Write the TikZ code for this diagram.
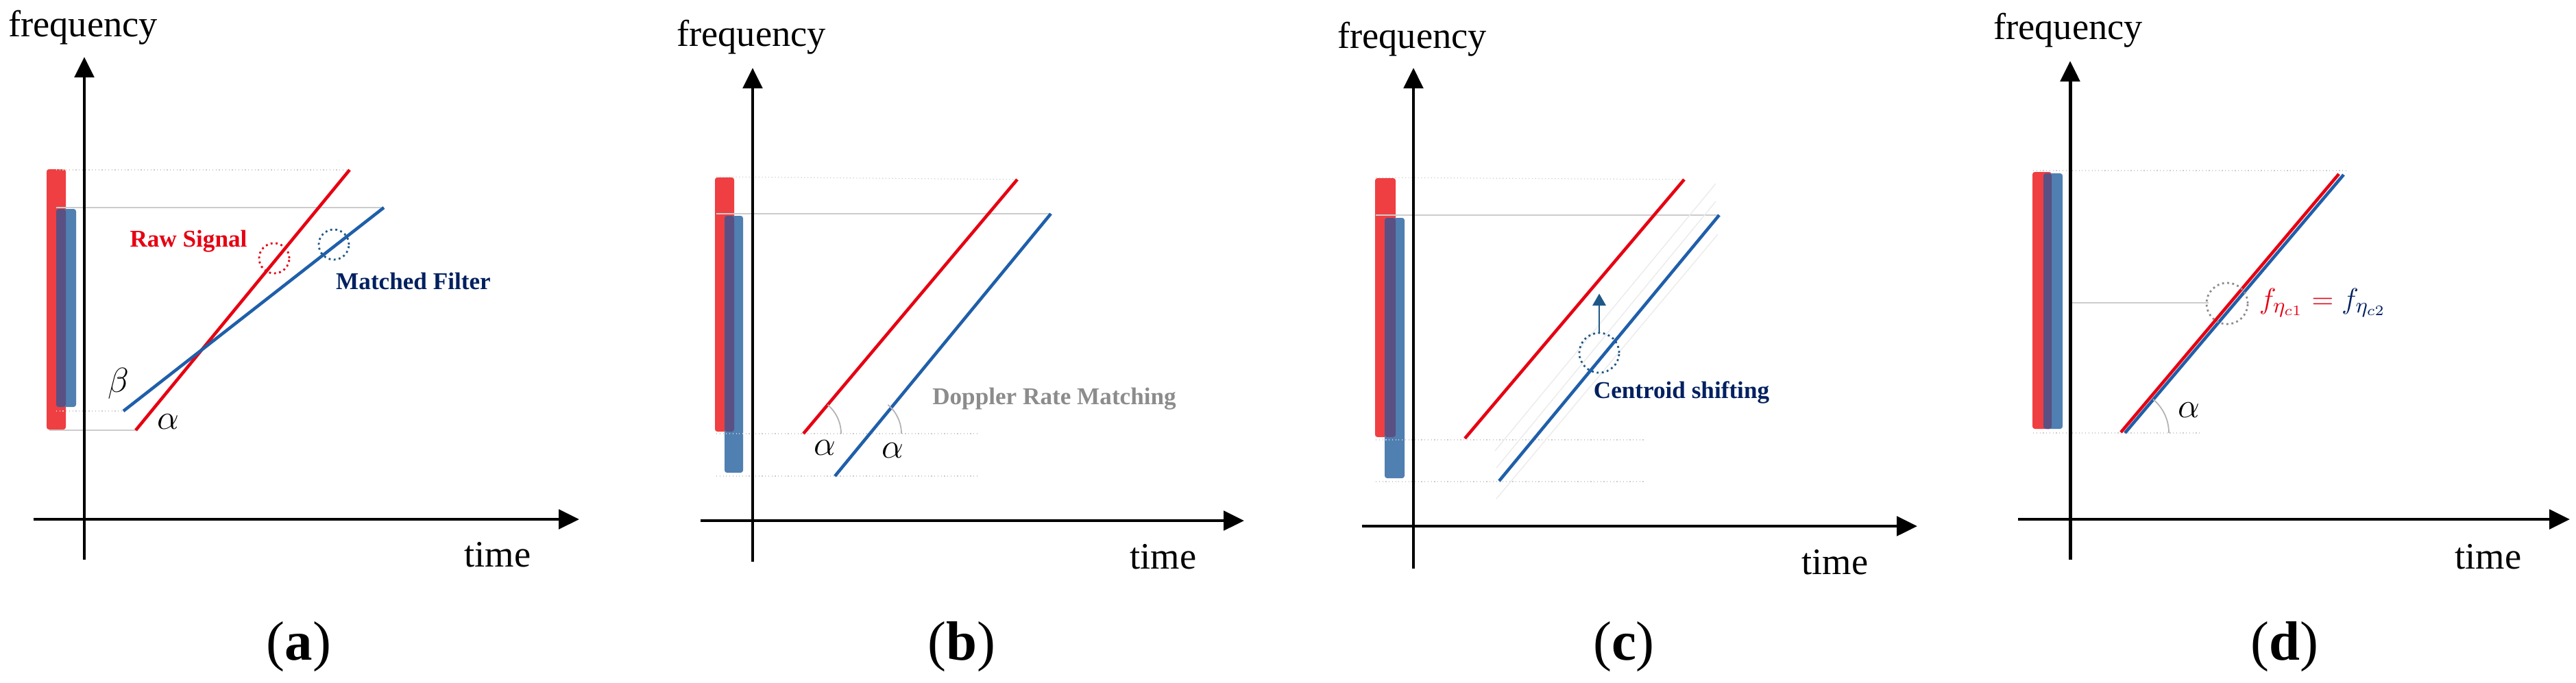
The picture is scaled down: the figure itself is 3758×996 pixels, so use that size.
\documentclass[tikz,border=0pt]{standalone}
\usepackage{fontspec}
\setmainfont{Liberation Serif}
\usepackage{amsmath}
\usetikzlibrary{arrows.meta,positioning,calc}
\definecolor{sigred}{RGB}{230,0,18}
\definecolor{sigblue}{RGB}{31,95,170}
\definecolor{barred}{RGB}{239,63,66}
\definecolor{barblue}{RGB}{80,127,177}
\definecolor{barmix}{RGB}{90,80,131}
\definecolor{navy}{RGB}{0,32,96}
\definecolor{markblue}{RGB}{31,88,135}
\definecolor{labgray}{RGB}{140,140,140}
\tikzset{
  axis/.style={line width=1.4pt, -{Triangle[length=8.5pt,width=8pt]}},
  guide/.style={line width=0.35pt, black!20},
  guidedot/.style={guide, densely dotted},
  chirp/.style={line width=1.3pt},
  ring/.style={circle, inner sep=0pt, line width=0.8pt, dash pattern=on 0.8pt off 1.3pt},
  axlabel/.style={font=\fontsize{15.5}{18}\selectfont, inner sep=0pt, anchor=base},
  sublabel/.style={font=\fontsize{23}{26}\selectfont, inner sep=0pt, anchor=base},
  tag/.style={font=\fontsize{10}{12}\selectfont\bfseries, inner sep=0pt},
  greek/.style={font=\fontsize{14}{16}\selectfont, inner sep=0pt},
  angarc/.style={line width=0.5pt, black!30},
  bar/.style={rounded corners=1pt},
}
\begin{document}
\begin{tikzpicture}[x=0.01cm, y=-0.01cm]
    \useasboundingbox (0,0) rectangle (3758,996);
    %%%%%%%%%% (a)
    \fill[bar, barred] (68,247) rectangle (96,627);
    \fill[bar, barblue] (82,305) rectangle (111,594);
    \fill[bar, barmix] (82,305) rectangle (96,594);
    \coordinate (rA0) at (198,628);
    \coordinate (rA1) at (510,248);
    \coordinate (bA0) at (180,600);
    \coordinate (bA1) at (560,303);
    \draw[guidedot] (82,248) -- (rA1);
    \draw[guide] (82,303) -- (bA1);
    \draw[guidedot] (82,600) -- (bA0);
    \draw[guide] (72,628) -- (rA0);
    \draw[axis] (123,817) -- (123,83);
    \draw[axis] (49,758) -- (845,758);
    \draw[chirp, sigred] (rA0) -- (rA1);
    \draw[chirp, sigblue] (bA0) -- (bA1);
    \node[ring, draw=sigred, minimum size=0.44cm] (ringA1) at (400,377) {};
    \node[ring, draw=markblue, minimum size=0.44cm] (ringA2) at (487,357) {};
    \node[axlabel] (freqA) at (121,53) {frequency};
    \node[axlabel] (timeA) at (726,827) {time};
    \node[sublabel] (capA) at (436,963) {(\textbf{a})};
    \node[tag, text=sigred] (rawA) at (275,352) {Raw Signal};
    \node[tag, text=navy] (mfA) at (603,410) {Matched Filter};
    \node[greek] (betaA) at (173,560) {$\beta$};
    \node[greek] (alphaA) at (245,616) {$\alpha$};
    %%%%%%%%%% (b)
    \fill[bar, barred] (1043,259) rectangle (1071,630);
    \fill[bar, barblue] (1057,315) rectangle (1084,690);
    \fill[bar, barmix] (1057,315) rectangle (1071,630);
    \coordinate (rB0) at (1172,633);
    \coordinate (rB1) at (1484,262);
    \coordinate (bB0) at (1218,695);
    \coordinate (bB1) at (1533,312);
    \draw[guidedot] (1045,258) -- (rB1);
    \draw[guide] (1045,312) -- (bB1);
    \draw[guidedot] (1045,633) -- (1429,633);
    \draw[guidedot] (1045,695) -- (1429,695);
    \draw[axis] (1098,820) -- (1098,99);
    \draw[axis] (1022,760) -- (1815,760);
    \draw[chirp, sigred] (rB0) -- (rB1);
    \draw[chirp, sigblue] (bB0) -- (bB1);
    \draw[angarc] ($(rB0)+(55,0)$) arc[start angle=0, end angle=-50, radius=55];
    \draw[angarc] (1315,633) arc[start angle=0, end angle=-50, radius=55];
    \node[axlabel] (freqB) at (1096,67) {frequency};
    \node[axlabel] (timeB) at (1697,830) {time};
    \node[sublabel] (capB) at (1403,963) {(\textbf{b})};
    \node[tag, text=labgray] (dopB) at (1538,582) {Doppler Rate Matching};
    \node[greek] (alphaB1) at (1203,654) {$\alpha$};
    \node[greek] (alphaB2) at (1302,658) {$\alpha$};
    %%%%%%%%%% (c)
    \fill[bar, barred] (2006,260) rectangle (2036,638);
    \fill[bar, barblue] (2020,318) rectangle (2049,698);
    \fill[bar, barmix] (2020,318) rectangle (2036,638);
    \coordinate (rC0) at (2137,640);
    \coordinate (rC1) at (2457,262);
    \coordinate (bC0) at (2187,702);
    \coordinate (bC1) at (2508,314);
    \draw[guidedot] (2007,259) -- (rC1);
    \draw[guide] (2007,314) -- (bC1);
    \draw[guidedot] (2007,642) -- (2401,642);
    \draw[guidedot] (2007,703) -- (2401,703);
    % faint traces of the shift
    \draw[line width=0.4pt, black!8] (2181,658) -- (2503,268);
    \draw[line width=0.4pt, black!8] (2183,683) -- (2503,294);
    \draw[line width=0.4pt, black!8] (2183,728) -- (2506,342);
    \draw[axis] (2062,830) -- (2062,99);
    \draw[axis] (1987,768) -- (2797,768);
    \draw[chirp, sigred] (rC0) -- (rC1);
    \draw[chirp, sigblue] (bC0) -- (bC1);
    \node[ring, draw=markblue, minimum size=0.58cm] (ringC) at (2333,515) {};
    \draw[line width=0.8pt, markblue, -{Triangle[length=5pt,width=5.5pt]}] (ringC.north) -- ++(0,-56);
    \node[axlabel] (freqC) at (2060,70) {frequency};
    \node[axlabel] (timeC) at (2677,838) {time};
    \node[sublabel] (capC) at (2369,963) {(\textbf{c})};
    \node[tag, text=navy] (cenC) at (2453,573) {Centroid shifting};
    %%%%%%%%%% (d)
    \fill[bar, barred] (2965,251) rectangle (2993,626);
    \fill[bar, barblue] (2981,253) rectangle (3009,626);
    \fill[bar, barmix] (2981,253) rectangle (2993,626);
    \coordinate (rD0) at (3094,631);
    \coordinate (rD1) at (3412,254);
    \coordinate (bD0) at (3100,632);
    \coordinate (bD1) at (3419,255);
    \draw[guidedot] (2966,249) -- (3423,249);
    \draw[guide] (3023,442) -- (3222,442);
    \draw[guidedot] (2966,632) -- (3211,632);
    \draw[axis] (3020,817) -- (3020,89);
    \draw[axis] (2944,758) -- (3749,758);
    \draw[chirp, sigred] (rD0) -- (rD1);
    \draw[chirp, sigblue] (bD0) -- (bD1);
    \draw[angarc] ($(bD0)+(64,0)$) arc[start angle=0, end angle=-50, radius=64];
    \node[ring, draw=black!45, minimum size=0.6cm] (ringD) at (3249,443) {};
    \node[axlabel] (freqD) at (3017,57) {frequency};
    \node[axlabel] (timeD) at (3630,830) {time};
    \node[sublabel] (capD) at (3333,963) {(\textbf{d})};
    \node[font=\fontsize{13}{15}\selectfont, inner sep=0pt, anchor=west] (feqD) at (3295,442) {$\color{sigred}f_{\eta_{c1}}=\color{navy}f_{\eta_{c2}}$};
    \node[greek] (alphaD) at (3193,599) {$\alpha$};
\end{tikzpicture}
\end{document}
